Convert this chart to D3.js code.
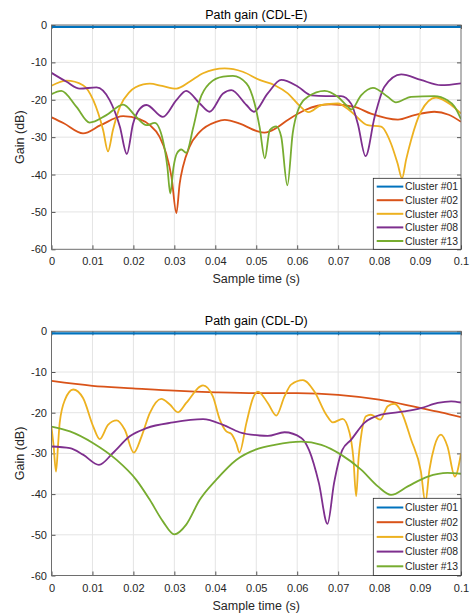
<!DOCTYPE html>
<html>
<head>
<meta charset="utf-8">
<script src="https://cdn.jsdelivr.net/npm/d3@7"></script>
<style>
  html, body { margin: 0; padding: 0; background: #fff; }
  svg { display: block; font-family: "Liberation Sans", Arial, Helvetica, sans-serif; }
</style>
</head>
<body>
<svg id="chart" width="471" height="614"></svg>
<script>
// ---------- data (time in ms, gain in dB) ----------
const seriesNames = ["Cluster #01", "Cluster #02", "Cluster #03", "Cluster #08", "Cluster #13"];
const seriesColors = ["#0072BD", "#D95319", "#EDB120", "#7E2F8E", "#77AC30"];
const xTickValues = [0, 0.01, 0.02, 0.03, 0.04, 0.05, 0.06, 0.07, 0.08, 0.09, 0.1];
const xTickLabels = ["0", "0.01", "0.02", "0.03", "0.04", "0.05", "0.06", "0.07", "0.08", "0.09", "0.1"];
const yTickValues = [-60, -50, -40, -30, -20, -10, 0];
const yTickLabels = ["-60", "-50", "-40", "-30", "-20", "-10", "0"];

// CDL-E
const cdlE_c01 = [[0,-0.5],[100,-0.5]];
const cdlE_c02 = [[0,-24.7],[3,-26.3],[7.7,-29.0],[12,-26.8],[17.5,-24.4],[21.5,-25.2],[24,-26.8],[26.4,-29.9],[28,-34.4],[29.3,-40.6],[30.5,-50.3],[31.3,-42.4],[32.1,-37.9],[33.7,-32.6],[36.2,-28.6],[40.2,-25.9],[42.3,-25.4],[46,-26.4],[50,-28.3],[52,-28.8],[55,-27.5],[57.7,-25.4],[61.8,-22.8],[65,-21.6],[68.3,-21.2],[74,-21.9],[78,-23.7],[84.6,-25.3],[88.6,-24.1],[93.5,-23.2],[97,-24.0],[100,-25.9]];
const cdlE_c03 = [[0,-16.25],[3.7,-14.9],[7.7,-16.1],[10.2,-20.1],[12.6,-28.1],[13.8,-33.8],[15,-28.1],[16.7,-21.9],[19.1,-17.9],[22.4,-15.9],[24,-15.7],[27,-16.3],[30.5,-17.0],[33.7,-15.2],[37,-12.9],[42.3,-11.6],[46.7,-12.5],[50.8,-14.7],[54.5,-16.1],[57.7,-18.3],[60.5,-21.5],[62.8,-23.3],[65.9,-21.4],[69.9,-21],[73.2,-23.2],[77.2,-26.8],[80.5,-27.2],[82.9,-31.7],[84.5,-37],[85.6,-41.0],[86.6,-36],[87.8,-30.8],[90.2,-23.2],[93.9,-19.4],[97.6,-21.4],[100,-23.7]];
const cdlE_c08 = [[0,-12.8],[3.7,-15.2],[6.9,-17.0],[11,-16.7],[14.2,-20.1],[16.7,-27.2],[18.4,-34.5],[19.9,-26.5],[21.5,-22.5],[23.2,-21.4],[27.2,-24.6],[30.5,-20.1],[32.9,-17.6],[36.2,-21],[38.6,-23.2],[41.9,-18.3],[43.9,-17.4],[47.6,-21.4],[49.4,-23.2],[52.8,-18.3],[56.1,-14.7],[60.2,-16.5],[63.4,-18.8],[67,-19.0],[70.7,-19.0],[73.2,-21.1],[74.8,-26.4],[76.7,-35.1],[78.9,-24.6],[81.3,-16.5],[85.4,-13.2],[90.2,-14.7],[95.1,-16.1],[100,-15.6]];
const cdlE_c13 = [[0,-18.5],[2.4,-17.6],[6.1,-21.9],[9.3,-26.1],[13.4,-24.1],[17.5,-21.3],[20.7,-24.6],[23.2,-26.8],[25.2,-26.2],[27.2,-30.8],[28.3,-38],[29.0,-45.1],[29.8,-38],[30.6,-34.4],[31.7,-33.3],[32.9,-34.2],[34.6,-27.5],[36.2,-20.1],[38.6,-15.6],[41.9,-13.8],[44.3,-13.6],[47.6,-15.6],[49.6,-21],[50.8,-27.2],[52.1,-35.7],[53.3,-28.1],[54.9,-27.1],[56.1,-29.9],[57.6,-42.9],[58.9,-29],[60.2,-22.8],[62.6,-19.2],[66.7,-17.6],[69.9,-19.2],[72.4,-21.9],[73.2,-22.6],[75.6,-18.8],[78.5,-16.8],[82.1,-19.2],[84.1,-20.7],[87.8,-19.2],[93.5,-19],[96.7,-20.1],[98.4,-21.8],[100,-25.2]];

// CDL-D
const cdlD_c01 = [[0,-0.5],[100,-0.5]];
const cdlD_c02 = [[0,-12.2],[10,-13.4],[19.9,-14.0],[30,-14.6],[40.2,-15.0],[50,-15.2],[60,-15.2],[70,-15.6],[80,-16.8],[86.2,-18.0],[90.2,-18.9],[95.1,-19.9],[100,-21.1]];
const cdlD_c03 = [[0,-23.6],[0.5,-28],[1.1,-34.5],[1.6,-28],[2,-22.5],[3.3,-16.8],[5.3,-14.3],[7.7,-16.4],[10.2,-23.4],[11.8,-26.5],[13.8,-23],[15.9,-21.9],[17.9,-24.2],[20.1,-29.8],[22,-25.8],[24,-20.1],[26.8,-16.6],[28.9,-18],[30.9,-19.9],[32.9,-17.6],[37,-13.3],[39.4,-16],[41.1,-21.7],[42.7,-24.6],[43.9,-25.2],[45.1,-27.5],[45.9,-29.8],[47.6,-22.5],[49.2,-16.4],[50.4,-14.8],[52.8,-17.6],[54.9,-20.7],[56.9,-16],[58.5,-13.1],[61.4,-12.0],[64.2,-14.8],[67.1,-20.5],[68.7,-22.4],[71.1,-21.5],[72.8,-25],[73.7,-31],[74.4,-40.5],[75,-31],[75.6,-25.8],[76.8,-20.9],[78,-20.5],[80.3,-21.7],[82.1,-18.4],[83.7,-17.8],[85.4,-19.7],[87.8,-26.6],[90.2,-34.4],[91.3,-42],[92.3,-34],[93.5,-28.3],[95.1,-25.4],[96.7,-28.3],[98.5,-35.7],[100,-30]];
const cdlD_c08 = [[0,-28.3],[4.5,-28.7],[7.7,-30.3],[11.6,-32.8],[15,-29.9],[19.1,-25.8],[23.2,-23.8],[29.7,-22.4],[37,-21.6],[41.9,-23],[45.9,-24.8],[50.8,-25.6],[52.8,-25.7],[56.9,-24.8],[61,-26.2],[62.9,-29.2],[65.3,-37.3],[67.4,-47.3],[69,-37.3],[71,-29.2],[73.2,-26.6],[76.4,-22.5],[80.5,-20.5],[86.2,-19.7],[90.2,-18.9],[94.3,-17.6],[97.6,-17.2],[100,-17.5]];
const cdlD_c13 = [[0,-23.4],[4.5,-24.6],[10.2,-27.5],[15.9,-31.6],[20.7,-36.5],[24,-41.4],[27.2,-46.7],[30,-49.9],[32.9,-47.5],[36.2,-41.4],[40.2,-36.5],[45.1,-31.6],[50,-29.0],[54.5,-27.9],[61,-27.1],[65.9,-27.9],[70.7,-30.3],[75.6,-34.0],[79.7,-38.1],[82.9,-40.2],[87,-38.1],[91.9,-35.7],[96.7,-34.8],[100,-35.0]];

const panels = [
  { title: "Path gain (CDL-E)", top: 25, bottom: 249.3, titleY: 18.5, tickY: 265, xlabelY: 282.5,
    legendTop: 178.3, legendRow: 13.6,
    series: [cdlE_c01, cdlE_c02, cdlE_c03, cdlE_c08, cdlE_c13] },
  { title: "Path gain (CDL-D)", top: 331.3, bottom: 575.5, titleY: 324.5, tickY: 591.5, xlabelY: 610,
    legendTop: 498.3, legendRow: 14.7,
    series: [cdlD_c01, cdlD_c02, cdlD_c03, cdlD_c08, cdlD_c13] }
];

const left = 51.5, right = 461;
const svg = d3.select("#chart");
const txt = "#262626";

panels.forEach((p, pi) => {
  const x = d3.scaleLinear().domain([0, 0.1]).range([left, right]);
  const y = d3.scaleLinear().domain([-60, 0]).range([p.bottom, p.top]);
  const g = svg.append("g");

  // grid
  g.append("g").selectAll("line").data(xTickValues.slice(1, -1)).join("line")
    .attr("x1", d => x(d)).attr("x2", d => x(d)).attr("y1", p.top).attr("y2", p.bottom)
    .attr("stroke", "#e4e4e4").attr("stroke-width", 1);
  g.append("g").selectAll("line").data(yTickValues.slice(1, -1)).join("line")
    .attr("x1", left).attr("x2", right).attr("y1", d => y(d)).attr("y2", d => y(d))
    .attr("stroke", "#e4e4e4").attr("stroke-width", 1);

  // axes via d3 (inward ticks)
  const xAxis = d3.axisBottom(x).tickValues(xTickValues).tickFormat((d, i) => xTickLabels[i]).tickSizeInner(-4).tickSizeOuter(0);
  const xAx = g.append("g").attr("transform", `translate(0,${p.bottom})`).call(xAxis);
  xAx.select(".domain").remove();
  xAx.selectAll("line").attr("stroke", "#555");
  xAx.selectAll("text").attr("y", null).attr("dy", null)
    .attr("transform", `translate(0,${p.tickY - p.bottom})`)
    .attr("fill", txt).attr("font-size", 11).style("font-family", "inherit");

  const xTop = d3.axisTop(x).tickValues(xTickValues).tickFormat("").tickSizeInner(-4).tickSizeOuter(0);
  const xTopAx = g.append("g").attr("transform", `translate(0,${p.top})`).call(xTop);
  xTopAx.select(".domain").remove();
  xTopAx.selectAll("line").attr("stroke", "#555");

  const yAxis = d3.axisLeft(y).tickValues(yTickValues).tickFormat((d, i) => yTickLabels[i]).tickSizeInner(-4).tickSizeOuter(0).tickPadding(4.5);
  const yAx = g.append("g").attr("transform", `translate(${left},0)`).call(yAxis);
  yAx.select(".domain").remove();
  yAx.selectAll("line").attr("stroke", "#555");
  yAx.selectAll("text").attr("fill", txt).attr("font-size", 11).style("font-family", "inherit");

  const yRight = d3.axisRight(y).tickValues(yTickValues).tickFormat("").tickSizeInner(-4).tickSizeOuter(0);
  const yRAx = g.append("g").attr("transform", `translate(${right},0)`).call(yRight);
  yRAx.select(".domain").remove();
  yRAx.selectAll("line").attr("stroke", "#555");

  // clip
  const clipId = "clip" + pi;
  svg.append("clipPath").attr("id", clipId).append("rect")
    .attr("x", left).attr("y", p.top - 2).attr("width", right - left).attr("height", p.bottom - p.top + 2);

  // lines
  const line = d3.line().x(d => x(d[0] / 1000)).y(d => y(d[1])).curve(d3.curveMonotoneX);
  const lg = g.append("g").attr("clip-path", `url(#${clipId})`);
  p.series.forEach((s, si) => {
    lg.append("path").attr("d", line(s)).attr("fill", "none")
      .attr("stroke", seriesColors[si]).attr("stroke-width", si === 0 ? 2.2 : 1.8)
      .attr("stroke-linejoin", "round");
  });

  // box
  g.append("rect").attr("x", left).attr("y", p.top).attr("width", right - left).attr("height", p.bottom - p.top)
    .attr("fill", "none").attr("stroke", "#6e6e6e").attr("stroke-width", 1);

  // title & labels
  g.append("text").attr("x", (left + right) / 2).attr("y", p.titleY).attr("text-anchor", "middle")
    .attr("font-size", 12.5).attr("fill", "#000").text(p.title);
  g.append("text").attr("x", (left + right) / 2).attr("y", p.xlabelY).attr("text-anchor", "middle")
    .attr("font-size", 12.5).attr("fill", txt).text("Sample time (s)");
  g.append("text").attr("transform", `translate(24,${(p.top + p.bottom) / 2}) rotate(-90)`)
    .attr("text-anchor", "middle").attr("font-size", 12.5).attr("fill", txt).text("Gain (dB)");

  // legend
  const lx0 = 373.3, lx1 = right;
  const lh = p.bottom - p.legendTop;
  const leg = g.append("g");
  leg.append("rect").attr("x", lx0).attr("y", p.legendTop).attr("width", lx1 - lx0).attr("height", lh)
    .attr("fill", "#fff").attr("stroke", "#262626").attr("stroke-width", 0.8);
  const rowStart = p.legendTop + (lh - p.legendRow * (seriesNames.length - 1)) / 2;
  seriesNames.forEach((n, i) => {
    const yy = rowStart + i * p.legendRow;
    leg.append("line").attr("x1", 376.7).attr("x2", 403.3).attr("y1", yy).attr("y2", yy)
      .attr("stroke", seriesColors[i]).attr("stroke-width", 2);
    leg.append("text").attr("x", 405).attr("y", yy).attr("dy", "0.36em")
      .attr("font-size", 10.4).attr("fill", txt).text(n);
  });
});
</script>
</body>
</html>
